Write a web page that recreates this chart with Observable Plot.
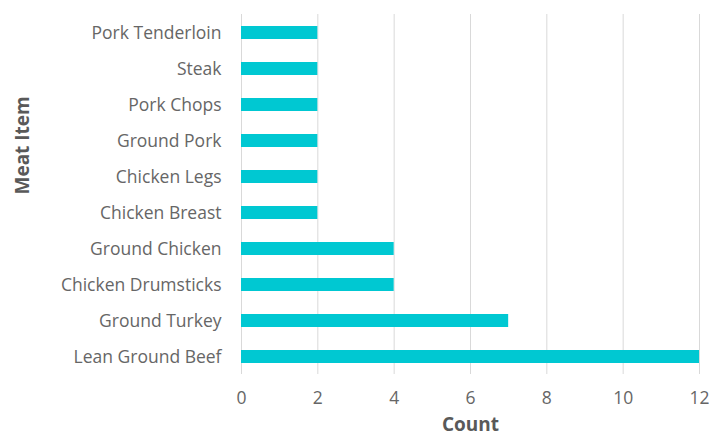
<!DOCTYPE html>
<html>
<head>
<meta charset="utf-8">
<script src="https://cdn.jsdelivr.net/npm/d3@7"></script>
<script src="https://cdn.jsdelivr.net/npm/@observablehq/plot@0.6"></script>
<style>
  html, body { margin: 0; padding: 0; background: #fff; }
  #chart svg { display: block; }
</style>
</head>
<body>
<div id="chart"></div>
<script>
const items = ["Pork Tenderloin", "Steak", "Pork Chops", "Ground Pork", "Chicken Legs",
               "Chicken Breast", "Ground Chicken", "Chicken Drumsticks", "Ground Turkey", "Lean Ground Beef"];
const counts = [2, 2, 2, 2, 2, 2, 4, 4, 7, 12];
const xTicks = [0, 2, 4, 6, 8, 10, 12];

const data = items.map((item, i) => ({item, count: counts[i]}));

const chart = Plot.plot({
  width: 709,
  height: 441,
  marginTop: 14,
  marginBottom: 67,
  marginLeft: 241,
  marginRight: 10,
  style: {fontFamily: "'Open Sans', sans-serif", fontSize: "17.5px", color: "#595959", background: "#fff"},
  x: {domain: [0, 12], ticks: xTicks},
  y: {domain: items, padding: 0.64, paddingOuter: 0.32},
  marks: [
    Plot.gridX(xTicks, {stroke: "#d9d9d9", strokeOpacity: 1, strokeWidth: 1}),
    Plot.barX(data, {x: "count", y: "item", fill: "#00C8D2"}),
    Plot.axisX({ticks: xTicks, tickSize: 0, tickPadding: 17, label: null, fontSize: 17.5, fill: "#666666"}),
    Plot.axisY({tickSize: 0, tickPadding: 20, label: null, fontSize: 17.5, fill: "#666666"}),
    Plot.text(["Count"], {frameAnchor: "bottom", dy: 56, fontSize: 19, fontWeight: "bold", fill: "#595959"}),
    Plot.text(["Meat Item"], {frameAnchor: "left", dx: -219, rotate: -90, fontSize: 19, fontWeight: "bold", fill: "#595959"})
  ]
});
document.getElementById("chart").appendChild(chart);
</script>
</body>
</html>
